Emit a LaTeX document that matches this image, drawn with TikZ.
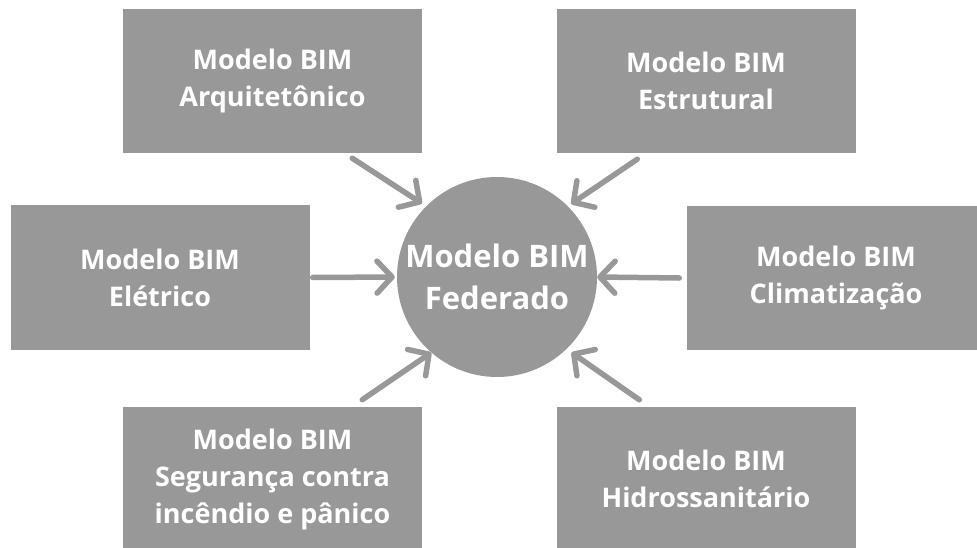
\documentclass[tikz,border=0pt]{standalone}
\usepackage{fontspec}
\setmainfont{Open Sans}
\usepackage{xcolor}
\usepackage{tikz}
\usetikzlibrary{arrows.meta, calc, positioning}
\definecolor{boxgray}{RGB}{152,152,152}
\tikzstyle{model} = [rectangle, minimum width=299pt, minimum height=144pt, inner sep=0pt, text centered, align=center, fill=boxgray, text=white, font=\bfseries\fontsize{27}{37}\selectfont]
\tikzstyle{federado} = [circle, minimum size=200pt, inner sep=0pt, text centered, align=center, fill=boxgray, text=white, font=\bfseries\fontsize{31}{42}\selectfont]
\tikzstyle{arrow} = [draw=boxgray, line width=5.5pt, line cap=round, -{Straight Barb[length=15pt, width=32pt, line cap=round, line join=round]}]

\begin{document}
\begin{tikzpicture}[x=1pt, y=-1pt]
				\useasboundingbox (0,0) rectangle (977,548);
				
				% Central node
				\node (fed) [federado] at (497,277) {Modelo BIM\\Federado};
				
				% Nodes for the discipline models
				\node (arq) [model] at (272.5,81) {Modelo BIM\\Arquitetônico};
				\node (est) [model] at (706,81) {Modelo BIM\\Estrutural};
				\node (ele) [model] at (160,277.5) {Modelo BIM\\Elétrico};
				\node (cli) [model] at (836,278) {Modelo BIM\\Climatização};
				\node (seg) [model] at (272.5,479) {Modelo BIM\\Segurança contra\\incêndio e pânico};
				\node (hid) [model] at (706,479) {Modelo BIM\\Hidrossanitário};
				
				% Arrows into the federated model
				\draw [arrow, shorten >=5pt] ($(arq.south east)+(-70,5)$) -- (fed.135);
				\draw [arrow, shorten >=4pt] ($(est.south west)+(81,6)$) -- (fed.45);
				\draw [arrow, shorten >=2pt] ($(ele.east)+(3,0)$) -- (fed.west);
				\draw [arrow] ($(cli.west)+(-7,0)$) -- (fed.east);
				\draw [arrow] ($(seg.north east)+(-60,-7)$) -- (fed.229);
				\draw [arrow, shorten >=6pt] ($(hid.north west)+(83,-7)$) -- (fed.-46);
				
\end{tikzpicture}
\end{document}
